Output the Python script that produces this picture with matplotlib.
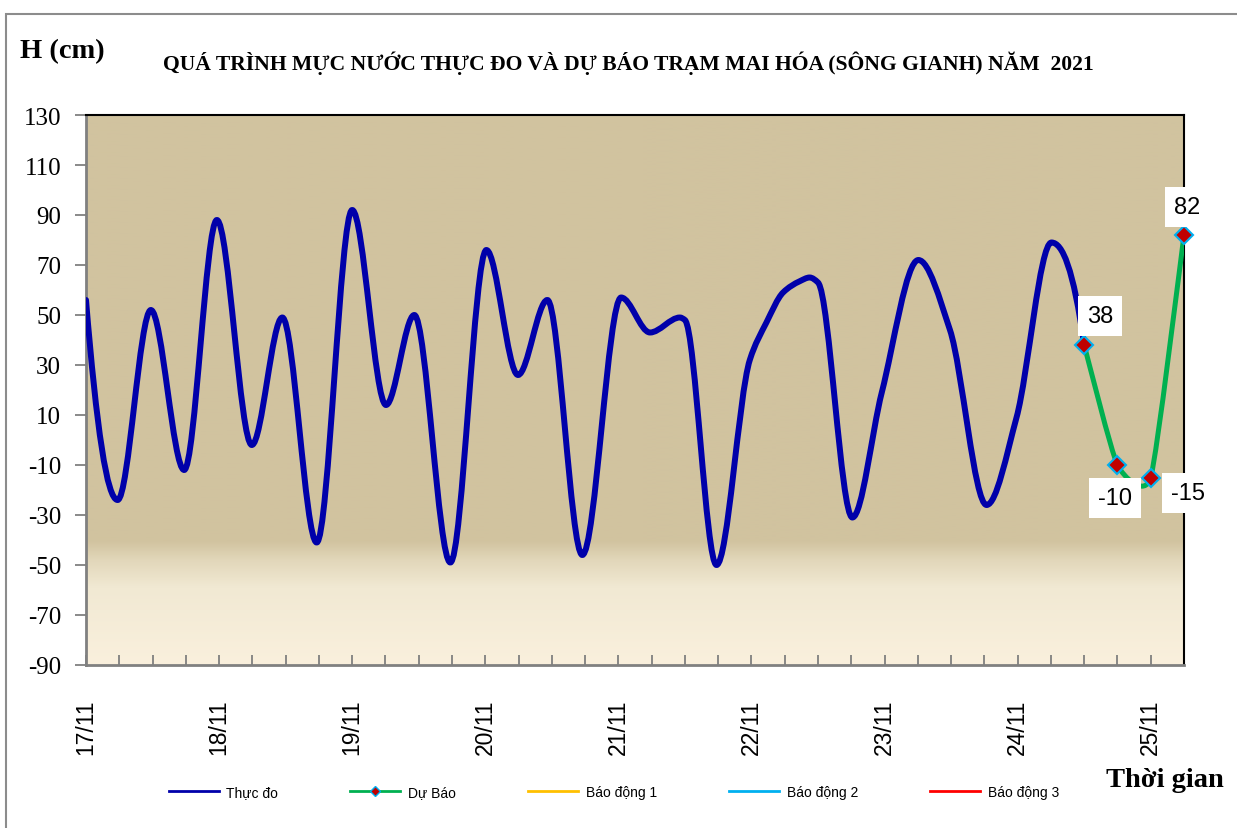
import numpy as np
import matplotlib.pyplot as plt
from matplotlib.path import Path
from matplotlib.patches import PathPatch, Rectangle
from matplotlib.lines import Line2D
from matplotlib.colors import to_rgb

plt.rcParams['axes.unicode_minus'] = False

# hours counted from 00h 17/11
obs_hours = [0, 5.7, 11.7, 17.7, 23.6, 29.9, 35.4, 41.6, 48.0, 54.1, 59.2,
             65.7, 72.2, 77.9, 83.2, 89.5, 96.5, 101.7, 107.1, 108.0, 113.7,
             119.7, 122.7, 125.7, 128.7, 130.5, 132.0, 138.2, 143.5, 150.1,
             155.8, 162.4, 167.8, 174.1, 180]
obs_level = [56, -24, 52, -12, 88, -2, 49, -41, 92, 14, 50,
             -49, 76, 26, 56, -46, 57, 43, 49, 48, -50,
             32, 47, 59, 63.5, 65, 63, -31, 19, 72,
             44, -26, 9, 79, 38]

fc_hours = [180, 186, 192, 198]
fc_level = [38, -10, -15, 82]

day_labels = ['17/11', '18/11', '19/11', '20/11', '21/11',
              '22/11', '23/11', '24/11', '25/11']
legend_labels = ['Thực đo', 'Dự Báo', 'Báo động 1', 'Báo động 2', 'Báo động 3']

W, H = 1237, 829
XPX = 1098 / 198.0   # px per hour
YPX = 550 / 220.0    # px per cm


def fpos(x, y):
    return x / W, 1 - y / H


def pchip_path(xs, ys):
    # smooth observed line without overshoot, as cubic bezier segments
    x = np.asarray(xs, float) * XPX
    y = np.asarray(ys, float) * YPX
    n = len(x)
    h = np.diff(x)
    d = np.diff(y) / h
    m = np.zeros(n)
    for k in range(1, n - 1):
        if d[k - 1] * d[k] > 0:
            w1 = 2 * h[k] + h[k - 1]
            w2 = h[k] + 2 * h[k - 1]
            m[k] = (w1 + w2) / (w1 / d[k - 1] + w2 / d[k])
    m[0] = ((2 * h[0] + h[1]) * d[0] - h[0] * d[1]) / (h[0] + h[1])
    if m[0] * d[0] <= 0:
        m[0] = 0
    m[-1] = ((2 * h[-1] + h[-2]) * d[-1] - h[-1] * d[-2]) / (h[-1] + h[-2])
    if m[-1] * d[-1] <= 0:
        m[-1] = 0
    verts = [(x[0], y[0])]
    codes = [Path.MOVETO]
    for k in range(n - 1):
        s = h[k] / 3
        verts += [(x[k] + s, y[k] + m[k] * s), (x[k + 1] - s, y[k + 1] - m[k + 1] * s), (x[k + 1], y[k + 1])]
        codes += [Path.CURVE4] * 3
    verts = np.array(verts) / [XPX, YPX]
    return Path(verts, codes)


def smooth_path(xs, ys, k=0.09):
    # excel-like smoothed line for the forecast
    p = np.column_stack([np.asarray(xs, float) * XPX, np.asarray(ys, float) * YPX])
    n = len(p)
    verts = [p[0]]
    codes = [Path.MOVETO]
    for i in range(n - 1):
        p0 = p[max(i - 1, 0)]
        p1 = p[i]
        p2 = p[i + 1]
        p3 = p[min(i + 2, n - 1)]
        verts += [p1 + (p2 - p0) * k, p2 - (p3 - p1) * k, p2]
        codes += [Path.CURVE4] * 3
    verts = np.array(verts) / [XPX, YPX]
    return Path(verts, codes)


fig = plt.figure(figsize=(W / 100, H / 100), dpi=100)
ax = fig.add_axes([86 / W, 1 - 666 / H, 1098 / W, 550 / H])

# background gradient
stops = [(0.0, '#FAF0DD'), (0.14, '#F1E9D3'), (0.19, '#E2D7BA'), (0.225, '#D1C39F'), (1.0, '#D1C39F')]
fr = np.linspace(0, 1, 400)
cols = np.array([to_rgb(c) for _, c in stops])
grad = np.stack([np.interp(fr, [s for s, _ in stops], cols[:, k]) for k in range(3)], axis=1)
ax.imshow(grad[:, None, :], extent=[0, 198, -90, 130], origin='lower', aspect='auto', zorder=0)

ax.add_patch(PathPatch(pchip_path(obs_hours, obs_level), fill=False, edgecolor='#0000AA',
                       lw=4.3, capstyle='round', joinstyle='round', zorder=3))
ax.add_patch(PathPatch(smooth_path(fc_hours, fc_level), fill=False, edgecolor='#00B050',
                       lw=3.6, capstyle='round', joinstyle='round', zorder=4))
ax.plot(fc_hours, fc_level, ls='none', marker='D', ms=9, mfc='#C00000', mec='#00B0F0',
        mew=1.5, zorder=5, clip_on=False)

offsets = [(11.5, 21), (-2, -24), (27, -11), (2, 20)]
for t, v, off in zip(fc_hours, fc_level, offsets):
    ax.annotate(str(v), (t, v), xytext=off, textcoords='offset points', ha='center', va='center',
                fontsize=17, family='Liberation Sans', annotation_clip=False, zorder=6,
                bbox=dict(boxstyle='square,pad=0.38', fc='white', ec='none'))

ax.set_xlim(0, 198)
ax.set_ylim(-90, 130)
ax.set_yticks(np.arange(-90, 131, 20))
ax.set_xticks(np.arange(0, 193, 24))
ax.set_xticks(np.arange(0, 198, 6), minor=True)
ax.set_xticklabels(day_labels, rotation=90, fontsize=16.5, family='Liberation Sans')
for lab in ax.get_yticklabels():
    lab.set_family('Liberation Serif')
ax.tick_params(axis='y', direction='out', length=8, width=1.3, color='#808080', labelsize=18, pad=10)
ax.tick_params(axis='x', which='both', direction='in', length=7, width=1.3, color='#808080', pad=24)

for s in ['left', 'bottom']:
    ax.spines[s].set_color('#808080')
    ax.spines[s].set_linewidth(2)
for s in ['top', 'right']:
    ax.spines[s].set_color('black')
    ax.spines[s].set_linewidth(1.5)

handles = [
    Line2D([], [], color='#0000AA', lw=2),
    Line2D([], [], color='#00B050', lw=2, marker='D', ms=5, mfc='#C00000', mec='#00B0F0'),
    Line2D([], [], color='#FFC000', lw=2),
    Line2D([], [], color='#00B0F0', lw=2),
    Line2D([], [], color='#FF0000', lw=2),
]
fig.legend(handles, legend_labels, loc='center', bbox_to_anchor=fpos(614, 793), ncol=5,
           frameon=False, prop={'family': 'Liberation Sans', 'size': 10},
           handlelength=3.6, handletextpad=0.55, columnspacing=5.2)

fig.text(*fpos(20, 52), 'H (cm)', fontsize=20.5, fontweight='bold', family='Liberation Serif',
         ha='left', va='center')
fig.text(*fpos(628, 63), 'QUÁ TRÌNH MỰC NƯỚC THỰC ĐO VÀ DỰ BÁO TRẠM MAI HÓA (SÔNG GIANH) NĂM  2021',
         fontsize=15.6, fontweight='bold', family='Liberation Serif', ha='center', va='center')
fig.text(*fpos(1165, 781), 'Thời gian', fontsize=20.5, fontweight='bold', family='Liberation Serif',
         ha='center', va='center')

fig.patches.append(Rectangle((6 / W, -0.1), 1.5, 1.1 - 15 / H, transform=fig.transFigure,
                             fill=False, ec='#8C8C8C', lw=1.5))

fig.savefig('out.png', dpi=100)
